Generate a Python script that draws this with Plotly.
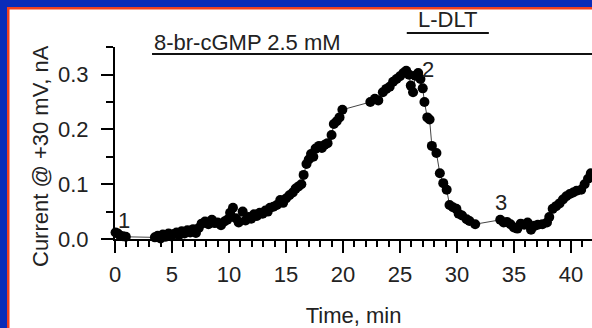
import plotly.graph_objects as go

# ---- data ----
time_min = [
    0.05, 0.25, 0.45, 0.7, 0.95,
    3.5, 3.75, 4.0, 4.2, 4.45, 4.7, 4.9, 5.15, 5.4, 5.6, 5.85, 6.1, 6.35, 6.6, 6.85,
    7.1, 7.35, 7.6, 7.9, 8.2, 8.5, 8.75, 9.0, 9.3, 9.6, 9.85, 10.1, 10.35, 10.6, 10.85,
    11.2, 11.45, 11.7, 11.95, 12.2, 12.45, 12.7, 12.95, 13.2, 13.4, 13.6, 13.9, 14.2,
    14.5, 14.75, 15.0, 15.3, 15.6, 15.85, 16.1, 16.35, 16.55, 16.8, 17.0, 17.2, 17.4,
    17.6, 17.9, 18.15, 18.4, 18.65, 19.0, 19.2, 19.45, 19.7, 19.95,
    22.4, 22.8, 23.1, 23.5, 23.8, 24.1, 24.4, 24.7, 25.0, 25.3, 25.55, 25.8, 25.95,
    26.15, 26.35, 26.6, 26.8, 27.0, 27.15, 27.4, 27.6, 27.8, 28.2, 28.5, 28.8, 29.1,
    29.35, 29.65, 29.95, 30.15, 30.45, 30.85, 31.1, 31.6,
    33.8, 34.1, 34.4, 34.7, 35.0, 35.3, 35.6, 35.9, 36.2, 36.5, 36.8, 37.1, 37.5,
    37.9, 38.1, 38.4, 38.7, 39.0, 39.3, 39.6, 39.9, 40.2, 40.5, 40.9, 41.2, 41.5, 41.75,
]
current_nA = [
    0.012, 0.010, 0.006, 0.005, 0.004,
    0.003, 0.006, 0.001, 0.008, 0.004, 0.010, 0.005, 0.009, 0.012, 0.007, 0.014, 0.010, 0.016, 0.012, 0.018,
    0.011, 0.020, 0.028, 0.032, 0.027, 0.035, 0.029, 0.030, 0.025, 0.032, 0.035, 0.048, 0.057, 0.038, 0.030,
    0.050, 0.034, 0.040, 0.037, 0.045, 0.042, 0.048, 0.046, 0.052, 0.050, 0.057, 0.059, 0.062,
    0.071, 0.066, 0.074, 0.080, 0.085, 0.092, 0.096, 0.100, 0.117, 0.137, 0.145, 0.155, 0.150,
    0.165, 0.170, 0.166, 0.172, 0.175, 0.190, 0.210, 0.215, 0.222, 0.236,
    0.250, 0.256, 0.253, 0.268, 0.274, 0.278, 0.287, 0.292, 0.297, 0.303, 0.307, 0.300, 0.280,
    0.268, 0.298, 0.303, 0.292, 0.275, 0.250, 0.222, 0.218, 0.170, 0.157, 0.120, 0.102, 0.090,
    0.062, 0.058, 0.055, 0.046, 0.043, 0.036, 0.033, 0.027,
    0.035, 0.030, 0.031, 0.027, 0.021, 0.019, 0.028, 0.026, 0.030, 0.017, 0.024, 0.026, 0.027,
    0.030, 0.040, 0.055, 0.060, 0.065, 0.072, 0.078, 0.082, 0.085, 0.088, 0.090, 0.100, 0.110, 0.120,
]
x_ticks = [0, 5, 10, 15, 20, 25, 30, 35, 40]
y_ticks = [0.0, 0.1, 0.2, 0.3]
y_tick_labels = ["0.0", "0.1", "0.2", "0.3"]
point_labels = ["1", "2", "3"]
point_label_x = [0.83, 27.45, 33.9]
point_label_y = [0.033, 0.31, 0.066]
cgmp_label = "8-br-cGMP 2.5 mM"
cgmp_start = 3.25
ldlt_label = "L-DLT"
ldlt_span = [25.6, 32.8]
x_max = 41.85

# ---- layout helpers (pixel -> paper) ----
W, H = 592, 328
L, R, T, B = 115, 0, 47, 89
PW, PH = W - L - R, H - T - B


def px(x):
    return (x - L) / PW


def py(y):
    return (H - B - y) / PH


FONT = dict(family="Liberation Sans, Arial, sans-serif", size=22, color="#222222")
BLUE = "#0a2cb8"
RED = "#f2401e"

fig = go.Figure()
fig.add_trace(go.Scatter(
    x=time_min, y=current_nA, mode="lines+markers",
    line=dict(color="#444444", width=1),
    marker=dict(color="black", size=10),
    cliponaxis=False, showlegend=False,
))

annotations = [
    dict(x=lx, y=ly, xref="x", yref="y", text=t, showarrow=False,
         xanchor="center", yanchor="middle", font=FONT)
    for t, lx, ly in zip(point_labels, point_label_x, point_label_y)
]
annotations += [
    dict(x=cgmp_start, y=py(42.5), xref="x", yref="paper", text=cgmp_label,
         showarrow=False, xanchor="left", yanchor="middle", font=FONT),
    dict(x=sum(ldlt_span) / 2, y=py(19.5), xref="x", yref="paper", text=ldlt_label,
         showarrow=False, xanchor="center", yanchor="middle", font=FONT),
    dict(x=px(40), y=py(156), xref="paper", yref="paper", text="Current @ +30 mV, nA",
         textangle=-90, showarrow=False, xanchor="center", yanchor="middle", font=FONT),
]

shapes = [
    dict(type="line", xref="x", yref="paper", x0=cgmp_start, x1=x_max,
         y0=py(54), y1=py(54), line=dict(color="#111111", width=2)),
    dict(type="line", xref="x", yref="paper", x0=ldlt_span[0], x1=ldlt_span[1],
         y0=py(33), y1=py(33), line=dict(color="#111111", width=2)),
    # frame: blue strips with red inner edge (top and left)
    dict(type="rect", xref="paper", yref="paper", x0=px(0), x1=px(W + 5), y0=py(0), y1=py(9.5),
         fillcolor=RED, line=dict(width=0), layer="above"),
    dict(type="rect", xref="paper", yref="paper", x0=px(0), x1=px(9.5), y0=py(0), y1=py(H + 5),
         fillcolor=RED, line=dict(width=0), layer="above"),
    dict(type="rect", xref="paper", yref="paper", x0=px(0), x1=px(W + 5), y0=py(0), y1=py(7),
         fillcolor=BLUE, line=dict(width=0), layer="above"),
    dict(type="rect", xref="paper", yref="paper", x0=px(0), x1=px(7), y0=py(0), y1=py(H + 5),
         fillcolor=BLUE, line=dict(width=0), layer="above"),
]

fig.update_layout(
    width=W, height=H,
    margin=dict(l=L, r=R, t=T, b=B, pad=0),
    paper_bgcolor="white", plot_bgcolor="white",
    font=FONT,
    annotations=annotations, shapes=shapes,
    xaxis=dict(
        range=[0, x_max], tickvals=x_ticks, showgrid=False, zeroline=False,
        showline=True, linecolor="black", linewidth=2,
        ticks="outside", ticklen=12, tickwidth=2, tickcolor="black",
        minor=dict(dtick=1, tick0=0, ticks="outside", ticklen=6, tickwidth=1.5, tickcolor="black"),
        title=dict(text="Time, min", font=FONT, standoff=22),
        ticklabelstandoff=3,
        tickfont=FONT,
    ),
    yaxis=dict(
        range=[0, 0.3505], tickvals=y_ticks, ticktext=y_tick_labels,
        showgrid=False, zeroline=False,
        showline=True, linecolor="black", linewidth=2,
        ticks="outside", ticklen=12, tickwidth=2, tickcolor="black",
        minor=dict(dtick=0.05, tick0=0, ticks="outside", ticklen=7, tickwidth=1.5, tickcolor="black"),
        ticklabelstandoff=8,
        tickfont=FONT,
    ),
)

fig.write_html(
    "out.html",
    config={"displayModeBar": False},
    post_script="document.body.style.margin='0';document.body.style.overflow='hidden';",
)
